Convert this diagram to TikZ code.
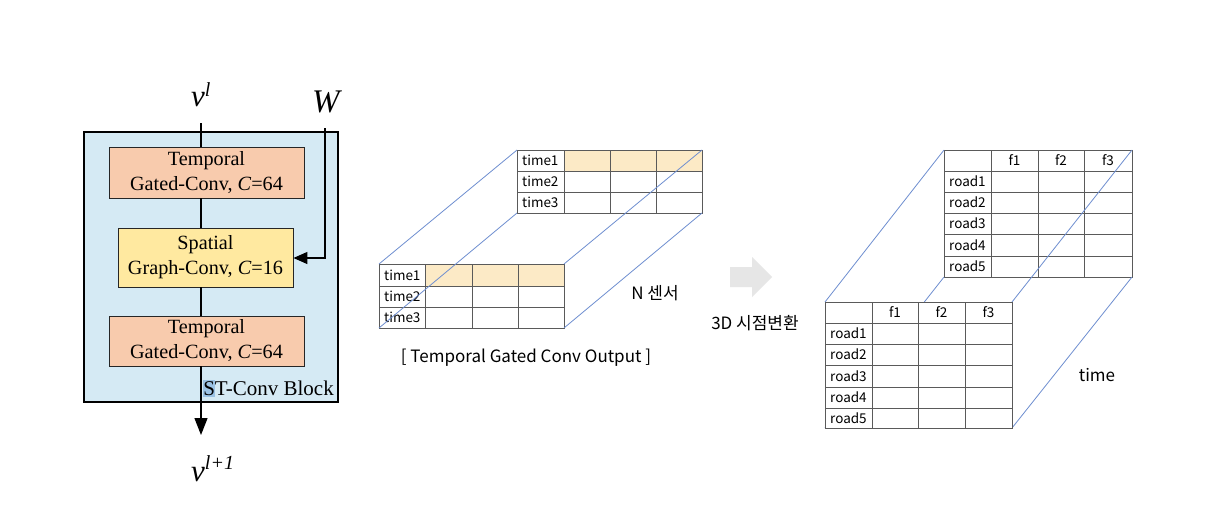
\documentclass[tikz,border=0pt]{standalone}
\usepackage{fontspec}
\setmainfont{Liberation Serif}
\newfontfamily\kr{Noto Sans CJK KR}
\usetikzlibrary{arrows.meta}
\definecolor{blkfill}{HTML}{D5EAF4}
\definecolor{orfill}{HTML}{F8CBAD}
\definecolor{yefill}{HTML}{FFE9A0}
\definecolor{hlfill}{HTML}{FCEAC6}
\definecolor{tblline}{HTML}{5A5A5A}
\definecolor{cubeline}{HTML}{6E8ED0}
\definecolor{arrgray}{HTML}{E6E6E6}
\definecolor{selblue}{HTML}{9BC2E4}
\newcommand{\supit}[2]{\raisebox{#1}{\fontsize{20}{20}\selectfont\textit{#2}}}
\tikzset{
  x=1pt, y=-1pt,
  layerbox/.style={draw=black!85, line width=0.9pt, align=center, inner sep=0pt,
    font=\fontsize{20.2}{25}\selectfont},
  flow/.style={draw=black, line width=1.3pt},
  flowarr/.style={flow, -{Triangle[length=17pt,width=13pt]}},
  tbl/.style={draw=tblline, line width=0.8pt},
  cube/.style={draw=cubeline, line width=0.8pt},
  lbl/.style={anchor=west, inner sep=0pt, font=\kr\fontsize{13.5}{15}\selectfont},
  hdr/.style={inner sep=0pt, font=\kr\fontsize{13.5}{15}\selectfont},
  captext/.style={inner sep=0pt, font=\kr\fontsize{17}{20}\selectfont},
}
\begin{document}
\begin{tikzpicture}
\useasboundingbox (0,0) rectangle (1212,504);
\fill[white] (0,0) rectangle (1212,504);

% ---------------- left: ST-Conv block ----------------
\draw[fill=blkfill, draw=black, line width=1.1pt] (84,132) rectangle (338,402);
\coordinate (ax) at (201,0);
\node[layerbox, fill=orfill, minimum width=195pt, minimum height=51pt] (t1) at (206.5,172.5)
  {Temporal\\Gated-Conv, \textit{C}=64};
\node[layerbox, fill=yefill, minimum width=175pt, minimum height=59pt] (sp) at (205.5,257.5)
  {Spatial\\Graph-Conv, \textit{C}=16};
\node[layerbox, fill=orfill, minimum width=195pt, minimum height=50pt] (t2) at (206.5,341)
  {Temporal\\Gated-Conv, \textit{C}=64};
\node[anchor=base east, inner sep=0pt, font=\fontsize{21}{22}\selectfont] (stlbl) at (334,395)
  {\setlength{\fboxsep}{0pt}\colorbox{selblue}{\rule[-1.5pt]{0pt}{17pt}S}T-Conv Block};

\node[anchor=base west, inner sep=0pt, font=\fontsize{31}{36}\selectfont] (vl) at (191,106)
  {\textit{v}\supit{10pt}{l}};
\node[anchor=base, inner sep=0pt, font=\fontsize{33}{36}\selectfont] (w) at (327,112) {\textit{W}};
\node[anchor=base west, inner sep=0pt, font=\fontsize{31}{36}\selectfont] (vout) at (191,481)
  {\textit{v}\supit{12pt}{l+1}};
\coordinate (vin) at (201,123);
\coordinate (vend) at (201,435);
\coordinate (win) at (325,128);
\coordinate (wbend) at (325,258);

\draw[flow] (vin) -- (t1.north -| ax);
\draw[flow] (t1.south -| ax) -- (sp.north -| ax);
\draw[flow] (sp.south -| ax) -- (t2.north -| ax);
\draw[flowarr] (t2.south -| ax) -- (vend);
\draw[flow, -{Triangle[length=14pt,width=12pt]}] (win) -- (wbend) -- (sp.east |- wbend);

% ---------------- middle: temporal gated conv output ----------------
% back table
\fill[hlfill] (564,150) rectangle (702,171);
\draw[tbl] (517,150) rectangle (702,213);
\foreach \x in {564,610,656} \draw[tbl] (\x,150) -- (\x,213);
\foreach \y in {171,192} \draw[tbl] (517,\y) -- (702,\y);
\node[lbl] (mb1) at (522,160.5) {time1};
\node[lbl] (mb2) at (522,181.5) {time2};
\node[lbl] (mb3) at (522,202.5) {time3};
% front table
\fill[white] (379,264) rectangle (564,328);
\fill[hlfill] (425,264) rectangle (564,286);
\draw[tbl] (379,264) rectangle (564,328);
\foreach \x in {425,472,518} \draw[tbl] (\x,264) -- (\x,328);
\foreach \y in {286,307} \draw[tbl] (379,\y) -- (564,\y);
\node[lbl] (mf1) at (384,275) {time1};
\node[lbl] (mf2) at (384,296.5) {time2};
\node[lbl] (mf3) at (384,317.5) {time3};
% cube edges
\coordinate (mfa) at (379,264); \coordinate (mba) at (517,150);
\coordinate (mfb) at (379,328); \coordinate (mbb) at (517,213);
\coordinate (mfc) at (564,264); \coordinate (mbc) at (702,150);
\coordinate (mfd) at (564,328); \coordinate (mbd) at (702,213);
\draw[cube] (mfa) -- (mba);
\draw[cube] (mfb) -- (mbb);
\draw[cube] (mfc) -- (mbc);
\draw[cube] (mfd) -- (mbd);
\node[captext] (nsensor) at (655,293) {N 센서};
\node[captext] (mcap) at (526,358) {[ Temporal Gated Conv Output ]};

% ---------------- arrow ----------------
\fill[arrgray] (730,267) -- (752,267) -- (752,257) -- (772,277) -- (752,297) -- (752,287) -- (730,287) -- cycle;
\node[captext] (conv3d) at (755,323) {3D 시점변환};

% ---------------- right: 3D view ----------------
% back table
\draw[tbl] (944,150) rectangle (1132,277);
\foreach \x in {991,1038,1084} \draw[tbl] (\x,150) -- (\x,277);
\foreach \y in {171,192,213,234,256} \draw[tbl] (944,\y) -- (1132,\y);
\node[hdr] (rbh1) at (1014.5,160.5) {f1};
\node[hdr] (rbh2) at (1061,160.5) {f2};
\node[hdr] (rbh3) at (1108,160.5) {f3};
\node[lbl] (rb1) at (949,181.5) {road1};
\node[lbl] (rb2) at (949,202.5) {road2};
\node[lbl] (rb3) at (949,223.5) {road3};
\node[lbl] (rb4) at (949,245) {road4};
\node[lbl] (rb5) at (949,266.5) {road5};
% cube edges
\coordinate (rfa) at (825,302); \coordinate (rba) at (944,150);
\coordinate (rfb) at (825,428); \coordinate (rbb) at (944,277);
\coordinate (rfc) at (1012,302); \coordinate (rbc) at (1132,150);
\coordinate (rfd) at (1012,428); \coordinate (rbd) at (1132,277);
\draw[cube] (rfa) -- (rba);
\draw[cube] (rfb) -- (rbb);
\draw[cube] (rfc) -- (rbc);
\draw[cube] (rfd) -- (rbd);
% front table
\draw[tbl, fill=white] (825,302) rectangle (1012,428);
\foreach \x in {872,918,965} \draw[tbl] (\x,302) -- (\x,428);
\foreach \y in {323,344,365,387,408} \draw[tbl] (825,\y) -- (1012,\y);
\node[hdr] (rfh1) at (895,312.5) {f1};
\node[hdr] (rfh2) at (941.5,312.5) {f2};
\node[hdr] (rfh3) at (988.5,312.5) {f3};
\node[lbl] (rf1) at (830,333.5) {road1};
\node[lbl] (rf2) at (830,354.5) {road2};
\node[lbl] (rf3) at (830,376) {road3};
\node[lbl] (rf4) at (830,397.5) {road4};
\node[lbl] (rf5) at (830,418) {road5};
\node[captext] (timelbl) at (1097,375) {time};
\end{tikzpicture}
\end{document}
